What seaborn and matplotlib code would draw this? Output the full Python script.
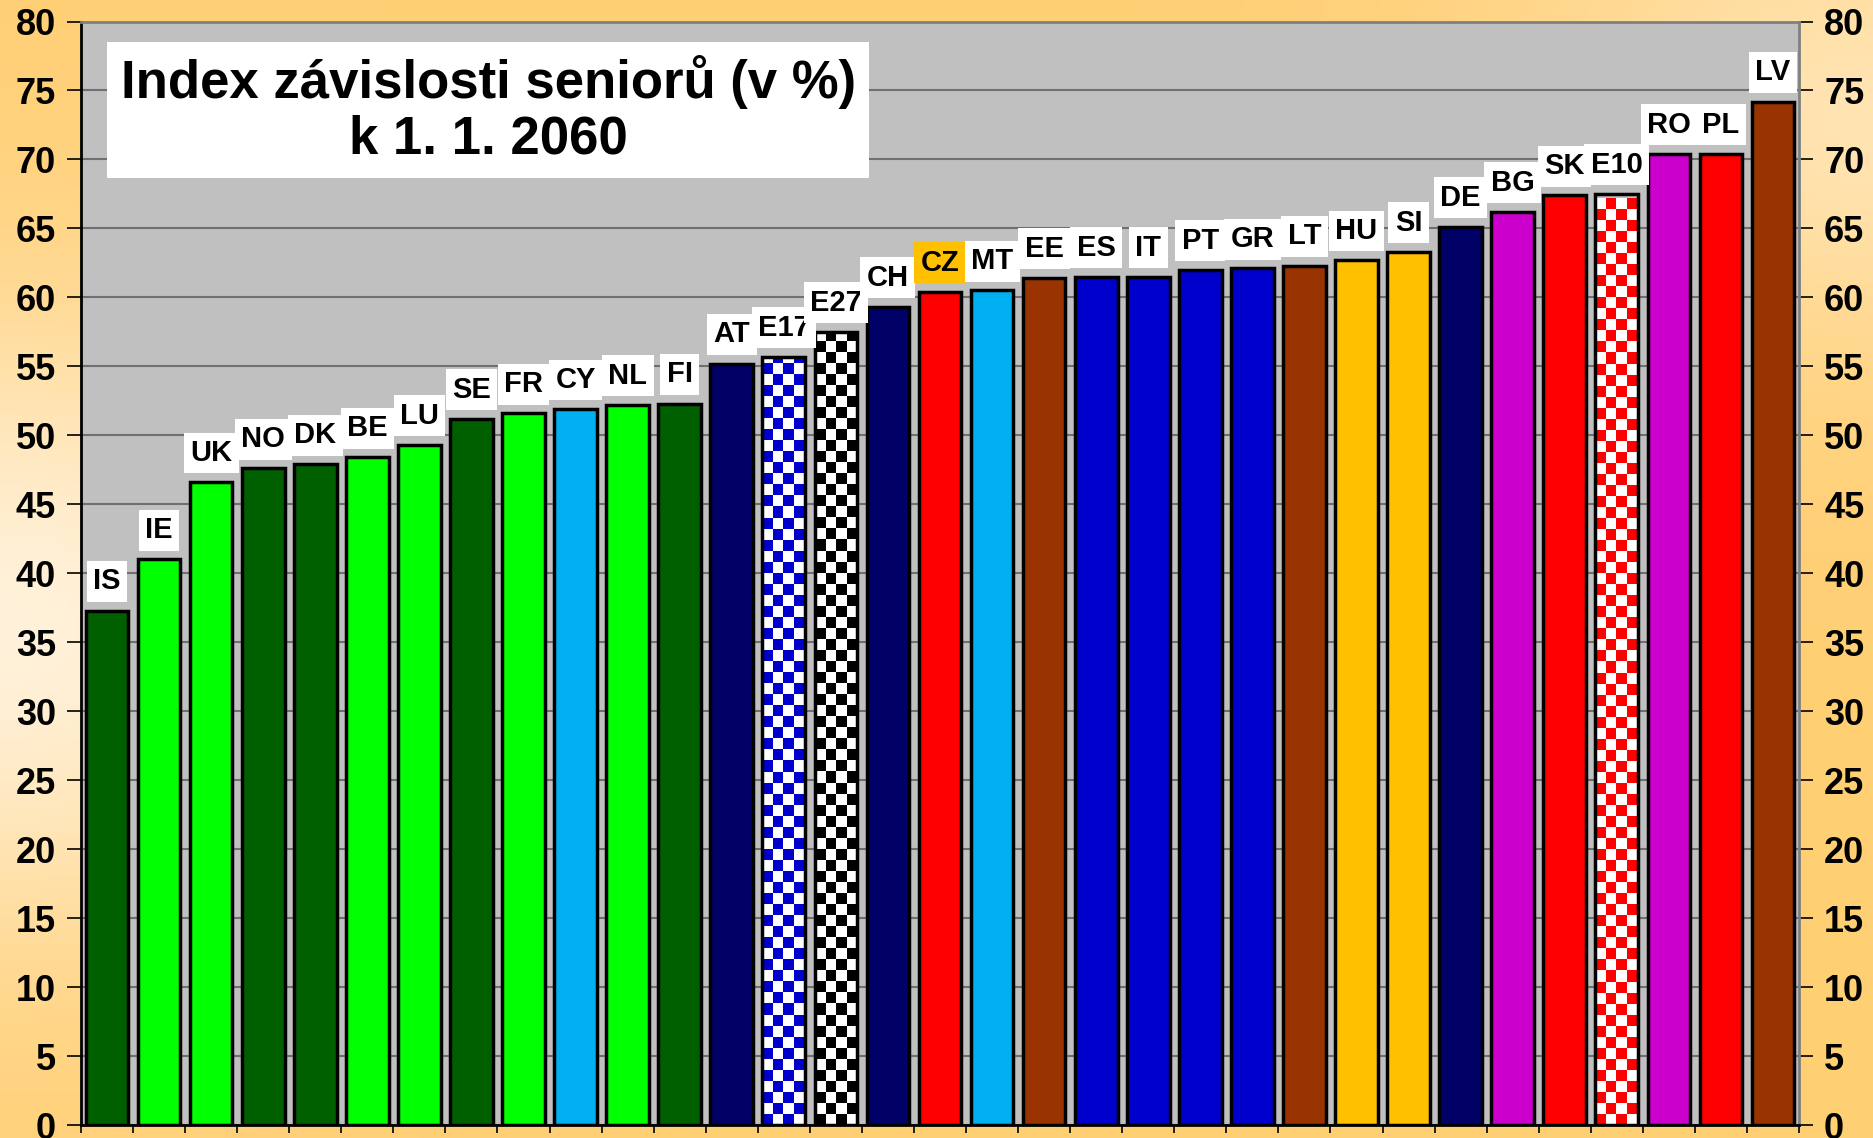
import numpy as np
import pandas as pd
import matplotlib
matplotlib.use("Agg")
import matplotlib.pyplot as plt
from matplotlib.colors import ListedColormap, to_rgb
import seaborn as sns

# Data
countries = ["IS", "IE", "UK", "NO", "DK", "BE", "LU", "SE", "FR", "CY", "NL", "FI",
             "AT", "E17", "E27", "CH", "CZ", "MT", "EE", "ES", "IT", "PT", "GR", "LT",
             "HU", "SI", "DE", "BG", "SK", "E10", "RO", "PL", "LV"]
values = [37.3, 41.0, 46.6, 47.6, 47.9, 48.4, 49.3, 51.2, 51.6, 51.9, 52.2, 52.3,
          55.2, 55.7, 57.5, 59.3, 60.4, 60.5, 61.4, 61.5, 61.5, 62.0, 62.1, 62.3,
          62.7, 63.3, 65.1, 66.2, 67.4, 67.5, 70.4, 70.4, 74.2]
bar_colors = ["#006000", "#00FF00", "#00FF00", "#006000", "#006000", "#00FF00", "#00FF00",
              "#006000", "#00FF00", "#00B0F0", "#00FF00", "#006000",
              "#000066", "#0000CC", "#000000", "#000066", "#FF0000", "#00B0F0",
              "#993300", "#0000CC", "#0000CC", "#0000CC", "#0000CC", "#993300",
              "#FFC000", "#FFC000", "#000066", "#CC00CC", "#FF0000", "#FF0000",
              "#CC00CC", "#FF0000", "#993300"]
checkered = ["E17", "E27", "E10"]
highlight = {"CZ": "#FFC000"}

df = pd.DataFrame({"country": countries, "value": values})
palette = dict(zip(countries, bar_colors))

sns.set_theme(style="white")
plt.rcParams["font.family"] = ["Liberation Sans", "DejaVu Sans"]
plt.rcParams["font.weight"] = "bold"
plt.rcParams["text.color"] = "black"
plt.rcParams["ytick.color"] = "black"

fig = plt.figure(figsize=(18.74, 11.38), dpi=100)

# warm background gradient
bg = fig.add_axes([0, 0, 1, 1], zorder=-10)
yy, xx = np.mgrid[0:1:200j, 0:1:300j]
light = np.exp(-((xx - 0.0) ** 2 / 0.05 + (yy - 0.55) ** 2 / 0.08))
light += 0.6 * np.exp(-((xx - 1.0) ** 2 / 0.04 + (yy - 0.1) ** 2 / 0.05))
light = np.clip(light, 0, 1)
c1 = np.array(to_rgb("#FFCF74"))
c2 = np.array(to_rgb("#FFF1DA"))
img = c1[None, None, :] * (1 - light[..., None]) + c2[None, None, :] * light[..., None]
bg.imshow(img, aspect="auto", extent=(0, 1, 0, 1))
bg.axis("off")

ax = fig.add_axes([0.0432, 0.0114, 0.9168, 0.9697])
ax.set_facecolor("#C0C0C0")

sns.barplot(data=df, x="country", y="value", hue="country", palette=palette,
            legend=False, width=0.82, edgecolor="black", linewidth=2.5,
            saturation=1, ax=ax, zorder=3)

# checker pattern for the aggregate bars
for patch, name in zip(ax.patches, countries):
    if name not in checkered:
        continue
    x0 = patch.get_x()
    w = patch.get_width()
    h = patch.get_height()
    nrows = int(round(h / 0.8))
    board = np.indices((nrows, 4)).sum(axis=0) % 2
    cmap = ListedColormap(["white", palette[name]])
    im = ax.imshow(board, cmap=cmap, extent=(x0, x0 + w, 0, nrows * 0.8),
                   aspect="auto", interpolation="nearest", zorder=3.5)
    im.set_clip_path(patch)
    patch.set_facecolor("none")
    patch.set_zorder(4)

# labels above bars
for i, (name, v) in enumerate(zip(countries, values)):
    ax.annotate(name, xy=(i, v), xytext=(0, 21), textcoords="offset points",
                ha="center", va="center", fontsize=21, fontweight="bold",
                color="black", zorder=6,
                bbox=dict(boxstyle="square,pad=0.22",
                          fc=highlight.get(name, "white"), ec="none"))

ax.text(0.237, 0.92, "Index závislosti seniorů (v %)\nk 1. 1. 2060",
        transform=ax.transAxes, ha="center", va="center", fontsize=38,
        fontweight="bold", color="black", linespacing=1.15, zorder=7,
        bbox=dict(boxstyle="square,pad=0.25", fc="white", ec="none"))

ax.set_ylim(0, 80)
ax.set_xlim(-0.5, len(countries) - 0.5)
ax.set_yticks(np.arange(0, 81, 5))
ax.yaxis.grid(True, color="#707070", linewidth=1.5, zorder=0)
ax.set_axisbelow(True)
ax.set_xlabel("")
ax.set_ylabel("")
ax.set_xticks(np.arange(-0.5, len(countries), 1))
ax.set_xticklabels([])
ax.tick_params(axis="x", direction="out", length=6, width=1.2, color="black", bottom=True)
ax.tick_params(axis="y", direction="out", length=10, width=1.2, color="black",
               labelcolor="black", left=True, right=True, labelright=True,
               labelsize=26, pad=8)
for lab in ax.get_yticklabels():
    lab.set_fontweight("bold")
for side in ["top", "right", "left", "bottom"]:
    ax.spines[side].set_color("#808080")
    ax.spines[side].set_linewidth(2)
ax.spines["bottom"].set_color("black")
ax.spines["left"].set_color("black")

fig.savefig("out.png", dpi=100)
